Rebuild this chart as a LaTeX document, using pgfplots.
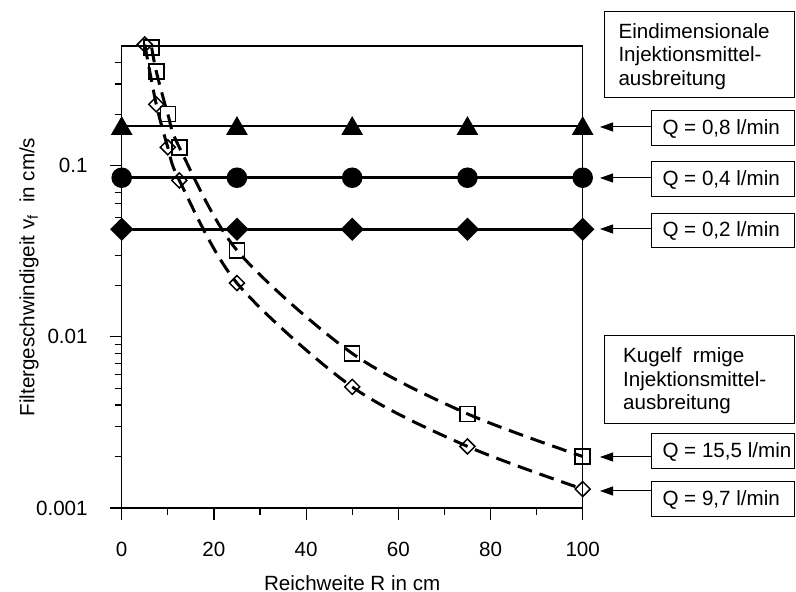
\documentclass[border=0pt]{standalone}
\usepackage{pgfplots}
\pgfplotsset{compat=1.18}
\usepackage{fontspec}
\setmainfont{Liberation Sans}
\usetikzlibrary{arrows.meta}

\begin{document}
\begin{tikzpicture}[font=\fontsize{10.3}{11.8}\selectfont]
\path[use as bounding box] (-60.85pt,-42pt) rectangle (337.15pt,254pt);
\begin{axis}[
 scale only axis, width=230.5pt, height=231pt,
 at={(0,0)}, anchor=south west,
 xmin=0, xmax=100, ymode=log, ymin=0.001, ymax=0.5,
 xtick={0,20,...,100}, minor xtick={10,30,...,90},
 ytick={0.001,0.01,0.1}, yticklabels={0.001,0.01,0.1},
 minor ytick={0.002,0.003,0.004,0.005,0.006,0.007,0.008,0.009,0.02,0.03,0.04,0.05,0.06,0.07,0.08,0.09,0.2,0.3,0.4},
 tick align=outside, xtick pos=left, ytick pos=left,
 major tick length=6pt, minor tick length=3.5pt,
 every tick/.append style={black, line width=0.6pt},
 axis line style={line width=0.6pt},
 /pgf/number format/assume math mode=true,
 tick label style={font=\fontsize{10.3}{12}\selectfont},
 xticklabel style={yshift=-7.5pt},
 yticklabel style={xshift=-7.5pt},
 xlabel={Reichweite R in cm},
 ylabel={Filtergeschwindigeit v\textsubscript{f}\ \ in cm/s},
 every axis x label/.style={at={(axis description cs:0.5,-0.162)}, anchor=center},
 every axis y label/.style={at={(axis description cs:-0.201,0.5)}, anchor=center, rotate=90},
 clip=false,
]
\addplot[black, line width=1.25pt, mark=triangle*, mark size=5pt, mark options={yshift=-1.2pt}]
 coordinates {(0,0.17)(25,0.17)(50,0.17)(75,0.17)(100,0.17)};
\addplot[black, line width=1.25pt, mark=*, mark size=4.5pt]
 coordinates {(0,0.085)(25,0.085)(50,0.085)(75,0.085)(100,0.085)};
\addplot[black, line width=1.25pt, mark=square*, mark size=3.5pt, mark options={rotate=45}]
 coordinates {(0,0.0425)(25,0.0425)(50,0.0425)(75,0.0425)(100,0.0425)};
\addplot[black, line width=1.5pt, dash pattern=on 7.5pt off 4pt, smooth, mark=square, mark size=3.75pt, mark options={solid, line width=0.75pt}]
 coordinates {(6.5,0.49)(7.5,0.355)(10,0.2)(12.5,0.128)(25,0.032)(50,0.0080)(75,0.00355)(100,0.0020)};
\addplot[black, line width=1.5pt, dash pattern=on 7.5pt off 4pt, smooth, mark=square, mark size=2.65pt, mark options={solid, rotate=45, line width=0.75pt}]
 coordinates {(5,0.51)(7.5,0.228)(10,0.128)(12.5,0.082)(25,0.0206)(50,0.0051)(75,0.00229)(100,0.00129)};
\end{axis}
\tikzset{lab/.style={anchor=west, inner sep=0pt}, arr/.style={line width=0.5pt, -{Triangle[length=6.5pt,width=4.5pt]}}}
% upper group
\draw[line width=0.5pt] (241.15pt,205pt) rectangle (336.4pt,248pt);
\node[lab, align=left] at (248.2pt,225.8pt) {Eindimensionale\\Injektionsmittel-\\ausbreitung};
\draw[line width=0.5pt] (264.65pt,181pt) rectangle (336.4pt,198.5pt);
\node[lab] at (270.2pt,189.75pt) {Q = 0,8 l/min};
\draw[arr] (264.65pt,190.5pt) -- (239.15pt,190.5pt);
\draw[line width=0.5pt] (264.65pt,155.5pt) rectangle (336.4pt,173pt);
\node[lab] at (270.2pt,164.25pt) {Q = 0,4 l/min};
\draw[arr] (264.65pt,165pt) -- (239.15pt,165pt);
\draw[line width=0.5pt] (264.65pt,130pt) rectangle (336.4pt,147pt);
\node[lab] at (270.2pt,138.5pt) {Q = 0,2 l/min};
\draw[arr] (264.65pt,139.5pt) -- (239.15pt,139.5pt);
% lower group
\draw[line width=0.5pt] (241.15pt,42pt) rectangle (336.6pt,86pt);
\node[lab, align=left] at (250.5pt,63.5pt) {Kugelf\hspace{0.55em}rmige\\Injektionsmittel-\\ausbreitung};
\draw[line width=0.5pt] (264.65pt,19.5pt) rectangle (336.6pt,37pt);
\node[lab] at (270.2pt,28.25pt) {Q = 15,5 l/min};
\draw[arr] (264.65pt,25.5pt) -- (239.15pt,25.5pt);
\draw[line width=0.5pt] (264.65pt,-4.5pt) rectangle (336.6pt,13pt);
\node[lab] at (270.2pt,4.25pt) {Q = 9,7 l/min};
\draw[arr] (264.65pt,8.5pt) -- (239.15pt,8.5pt);
\end{tikzpicture}
\end{document}
